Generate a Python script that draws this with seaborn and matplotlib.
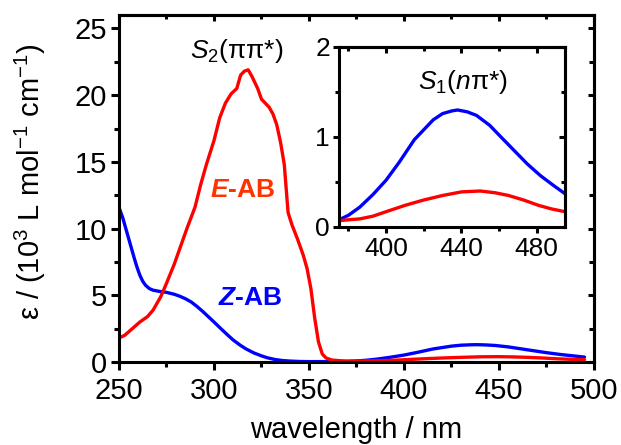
import matplotlib
matplotlib.use("Agg")
import matplotlib.pyplot as plt
import seaborn as sns
import pandas as pd
from matplotlib.ticker import MultipleLocator

# ---- data ----
e_wl = [250, 253, 257, 261, 265, 268, 272, 275, 279, 283, 286, 290, 293, 296, 300,
        303, 306, 309, 312, 314, 316, 318, 320, 323, 325, 329, 331, 333, 335, 337,
        339, 341, 344, 347, 349, 351, 353, 355, 357, 359, 362, 366, 370, 375, 380,
        386, 393, 400, 410, 420, 430, 440, 450, 458, 465, 473, 481, 488, 495]
e_eps = [1.8, 2.0, 2.5, 3.0, 3.4, 3.9, 4.9, 5.9, 7.3, 8.9, 10.1, 11.6, 13.3, 14.8, 16.6,
         18.3, 19.4, 20.1, 20.5, 21.5, 21.8, 21.9, 21.4, 20.5, 19.7, 19.1, 18.6, 17.8, 16.5, 14.8,
         11.2, 10.3, 9.2, 8.0, 7.0, 5.5, 3.3, 1.5, 0.6, 0.3, 0.15, 0.1, 0.07, 0.07, 0.08,
         0.09, 0.12, 0.17, 0.24, 0.30, 0.35, 0.39, 0.40, 0.38, 0.35, 0.30, 0.24, 0.20, 0.17]

z_wl = [250, 252, 254, 256, 258, 259.5, 261, 262.5, 264, 266, 268, 271, 275, 279, 282,
        285, 288, 291, 294, 297, 300, 304, 307, 310, 314, 317, 321, 325, 328, 332,
        336, 340, 345, 350, 360, 370, 375, 380, 386, 393, 400, 407, 415, 420, 425,
        430, 435, 438, 443, 448, 455, 461, 468, 475, 482, 489, 495]
z_eps = [11.6, 10.8, 9.8, 8.8, 7.8, 7.1, 6.5, 6.05, 5.75, 5.5, 5.38, 5.3, 5.22, 5.08, 4.93,
         4.74, 4.5, 4.17, 3.8, 3.4, 3.0, 2.45, 2.05, 1.66, 1.24, 0.97, 0.68, 0.46, 0.32, 0.19,
         0.11, 0.07, 0.04, 0.03, 0.03, 0.04, 0.08, 0.13, 0.22, 0.36, 0.52, 0.72, 0.97, 1.08, 1.19,
         1.26, 1.29, 1.30, 1.28, 1.24, 1.13, 1.0, 0.85, 0.70, 0.57, 0.46, 0.37]

df_e = pd.DataFrame({"wl": e_wl, "eps": e_eps})
df_z = pd.DataFrame({"wl": z_wl, "eps": z_eps})

sns.set_theme(style="ticks")
plt.rcParams["font.family"] = ["Liberation Sans", "DejaVu Sans"]
plt.rcParams["mathtext.fontset"] = "custom"
plt.rcParams["mathtext.rm"] = "Liberation Sans"
plt.rcParams["mathtext.it"] = "Liberation Sans:italic"
plt.rcParams["mathtext.bf"] = "Liberation Sans:bold"
plt.rcParams["mathtext.bfit"] = "Liberation Sans:italic:bold"
for key in ["text.color", "axes.labelcolor", "xtick.color", "ytick.color",
            "xtick.labelcolor", "ytick.labelcolor", "axes.edgecolor"]:
    plt.rcParams[key] = "black"

RED = "#ff0000"
BLUE = "#0000ff"
LW = 2.4
SPW = 2.2


def style_axes(a, xmaj, xmin, ymaj, ymin, labelsize, xpad, ypad, lmaj, lmin, lin):
    a.xaxis.set_major_locator(MultipleLocator(xmaj))
    a.xaxis.set_minor_locator(MultipleLocator(xmin))
    a.yaxis.set_major_locator(MultipleLocator(ymaj))
    a.yaxis.set_minor_locator(MultipleLocator(ymin))
    a.tick_params(which="both", direction="out", top=False, right=False, width=SPW,
                  labelsize=labelsize, colors="black")
    a.tick_params(axis="x", which="both", pad=xpad)
    a.tick_params(axis="y", which="both", pad=ypad)
    a.tick_params(which="major", length=lmaj)
    a.tick_params(which="minor", length=lmin)
    for s in a.spines.values():
        s.set_linewidth(SPW)
        s.set_color("black")
    top = a.secondary_xaxis("top")
    top.xaxis.set_major_locator(MultipleLocator(xmaj))
    top.xaxis.set_minor_locator(MultipleLocator(xmin))
    top.tick_params(which="both", direction="in", width=SPW, labeltop=False, colors="black")
    top.tick_params(which="major", length=lin)
    top.tick_params(which="minor", length=lin * 0.7)
    top.spines["top"].set_linewidth(SPW)
    right = a.secondary_yaxis("right")
    right.yaxis.set_major_locator(MultipleLocator(ymaj))
    right.yaxis.set_minor_locator(MultipleLocator(ymin))
    right.tick_params(which="both", direction="in", width=SPW, labelright=False, colors="black")
    right.tick_params(which="major", length=lin)
    right.tick_params(which="minor", length=lin * 0.8)
    right.spines["right"].set_linewidth(SPW)


fig = plt.figure(figsize=(6.21, 4.45), dpi=100)
ax = fig.add_axes([0.1916, 0.1865, 0.7649, 0.7795])

sns.lineplot(data=df_z, x="wl", y="eps", ax=ax, color=BLUE, lw=LW, estimator=None)
sns.lineplot(data=df_e, x="wl", y="eps", ax=ax, color=RED, lw=LW, estimator=None)

ax.set_xlim(250, 500)
ax.set_ylim(0, 26)
style_axes(ax, 50, 25, 5, 2.5, 21, 5, 3, 5.5, 3.5, 4.5)
ax.set_xlabel("wavelength / nm", fontsize=21)
ax.set_ylabel(r"ε / (10$^3$ L mol$^{-1}$ cm$^{-1}$)", fontsize=21)
ax.xaxis.set_label_coords(0.5, -0.155)
ax.yaxis.set_label_coords(-0.15, 0.52)

ax.text(312, 23.3, r"$\mathit{S}_2$(ππ*)", fontsize=19, ha="center", va="center")
ax.text(315, 12.9, r"$\mathbfit{E}$-AB", fontsize=19, fontweight="bold",
        color="#ff3300", ha="center", va="center")
ax.text(319, 4.8, r"$\mathbfit{Z}$-AB", fontsize=19, fontweight="bold",
        color=BLUE, ha="center", va="center")

# ---- inset ----
ins = fig.add_axes([0.5459, 0.4899, 0.3639, 0.4045])
sns.lineplot(data=df_z, x="wl", y="eps", ax=ins, color=BLUE, lw=LW, estimator=None)
sns.lineplot(data=df_e, x="wl", y="eps", ax=ins, color=RED, lw=LW, estimator=None)
ins.set_xlim(375, 495)
ins.set_ylim(0, 2)
style_axes(ins, 40, 20, 1, 0.5, 19, 3, 2, 4.5, 3, 4)
ins.set_xlabel("")
ins.set_ylabel("")
ins.text(441, 1.61, r"$\mathit{S}_1$($\mathit{n}$π*)", fontsize=19, ha="center", va="center")

fig.savefig("out.png", dpi=100)
